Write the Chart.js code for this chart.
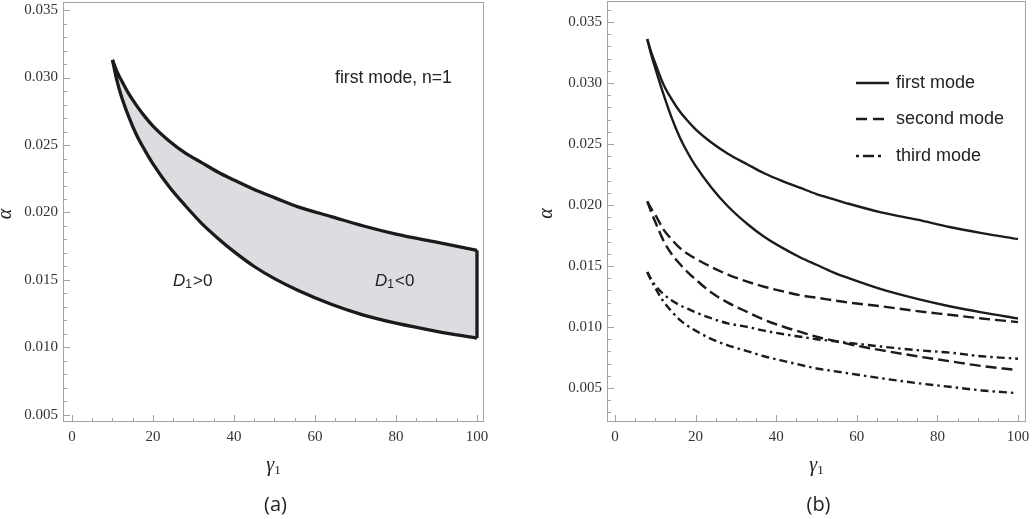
<!DOCTYPE html>
<html>
<head>
<meta charset="utf-8">
<script src="https://cdn.jsdelivr.net/npm/chart.js@4.4.0/dist/chart.umd.min.js"></script>
<style>
  body { margin: 0; background: #fff; }
  .panel { position: absolute; top: 0; width: 516px; height: 519px; }
</style>
</head>
<body>
<div class="panel" style="left:0px"><canvas id="panelA" width="516" height="519"></canvas></div>
<div class="panel" style="left:516px"><canvas id="panelB" width="516" height="519"></canvas></div>
<script>
// panel (a): first mode, n=1 -- boundary of D1<0 region
var gammaA      = [10, 11, 12, 14, 16, 18, 20, 24, 28, 32, 36, 40, 45, 50, 56, 64, 72, 80, 90, 100];
var alphaUpperA = [0.0313, 0.0305, 0.0299, 0.0288, 0.0279, 0.0271, 0.0264, 0.0253, 0.0244, 0.0237, 0.0230, 0.0224, 0.0217, 0.0211, 0.0204, 0.0197, 0.0190, 0.0184, 0.0178, 0.0172];
var alphaLowerA = [0.0313, 0.0299, 0.0288, 0.0271, 0.0257, 0.0246, 0.0236, 0.0219, 0.0205, 0.0192, 0.0181, 0.0171, 0.0160, 0.0151, 0.0142, 0.0132, 0.0124, 0.0118, 0.0112, 0.0107];
var edgeGammaA  = [100, 100];
var edgeAlphaA  = [0.0107, 0.0172];

// panel (b): first, second, third mode
var gammaB       = [8, 9, 10, 12, 14, 16, 18, 20, 24, 28, 33, 37, 42, 46, 50, 54, 58, 66, 75, 83, 91, 100];
var gammaBShort  = [8, 9, 10, 12, 14, 16, 18, 20, 24, 28, 33, 37, 42, 46, 50, 54, 58, 66, 75, 83, 91, 99];
var firstUpper   = [0.0336, 0.0325, 0.0316, 0.0299, 0.0287, 0.0277, 0.0269, 0.0262, 0.0251, 0.0242, 0.0233, 0.0226, 0.0219, 0.0214, 0.0209, 0.0205, 0.0201, 0.0194, 0.0188, 0.0182, 0.0177, 0.0172];
var firstLower   = [0.0336, 0.0323, 0.0312, 0.0291, 0.0272, 0.0256, 0.0243, 0.0232, 0.0214, 0.0199, 0.0184, 0.0174, 0.0164, 0.0157, 0.0151, 0.0145, 0.0140, 0.0131, 0.0123, 0.0117, 0.0112, 0.0107];
var secondUpper  = [0.0203, 0.0197, 0.0192, 0.0180, 0.0172, 0.0165, 0.0160, 0.0156, 0.0149, 0.0143, 0.0137, 0.0133, 0.0129, 0.0126, 0.0124, 0.0122, 0.0120, 0.0117, 0.0113, 0.0110, 0.0107, 0.0104];
var secondLower  = [0.0203, 0.0194, 0.0186, 0.0171, 0.0160, 0.0152, 0.0145, 0.0139, 0.0128, 0.0120, 0.0112, 0.0106, 0.0100, 0.0096, 0.0092, 0.0089, 0.0086, 0.0081, 0.0076, 0.0072, 0.0068, 0.0065];
var thirdUpper   = [0.0145, 0.0139, 0.0134, 0.0127, 0.0122, 0.0118, 0.0115, 0.0112, 0.0107, 0.0103, 0.0100, 0.0097, 0.0094, 0.0092, 0.0090, 0.00885, 0.0087, 0.0084, 0.0081, 0.0079, 0.0076, 0.0074];
var thirdLower   = [0.0145, 0.0138, 0.0132, 0.0121, 0.0113, 0.0106, 0.0101, 0.0097, 0.0090, 0.0085, 0.0080, 0.0076, 0.0072, 0.0069, 0.0066, 0.0064, 0.0062, 0.0058, 0.0054, 0.0051, 0.0048, 0.0046];

var xTicks = [0, 20, 40, 60, 80, 100];
var yTicks = [0.005, 0.010, 0.015, 0.020, 0.025, 0.030, 0.035];
var legendLabels = ['first mode', 'second mode', 'third mode'];

var lineColor = '#1b1b1b';
var dashSecond = [11, 5];
var dashThird = [8, 4, 2.5, 4];

function pts(xs, ys){
  return xs.map((x, i) => ({x: x, y: ys[i]}));
}

// mathematica-like frame with inward ticks
var framePlugin = {
  id: 'frame',
  afterDraw(chart){
    var ctx = chart.ctx;
    var a = chart.chartArea;
    var xs = chart.scales.x, ys = chart.scales.y;
    ctx.save();
    ctx.strokeStyle = '#a3a3a3';
    ctx.lineWidth = 1;
    ctx.strokeRect(Math.round(a.left) + 0.5, Math.round(a.top) + 0.5, Math.round(a.right - a.left) - 1, Math.round(a.bottom - a.top) - 1);
    ctx.beginPath();
    for (var k = 0; k <= 20; k++) {
      var v = k * 5;
      var px = Math.round(xs.getPixelForValue(v)) + 0.5;
      var len = (v % 20 === 0) ? 7 : 4;
      ctx.moveTo(px, a.bottom);
      ctx.lineTo(px, a.bottom - len);
    }
    for (var m = Math.ceil(ys.min * 1000); m <= Math.floor(ys.max * 1000); m++) {
      var py = Math.round(ys.getPixelForValue(m / 1000)) + 0.5;
      var ylen = (m % 5 === 0) ? 7 : 4;
      ctx.moveTo(a.left, py);
      ctx.lineTo(a.left + ylen, py);
    }
    ctx.stroke();
    ctx.restore();
  }
};

function drawAxisTitles(chart, alphaX, tagText){
  var ctx = chart.ctx;
  var a = chart.chartArea;
  var cx = (a.left + a.right) / 2;
  ctx.save();
  ctx.fillStyle = '#222';
  ctx.textBaseline = 'middle';
  // alpha, rotated
  ctx.save();
  ctx.translate(alphaX, (a.top + a.bottom) / 2 + 2);
  ctx.rotate(-Math.PI / 2);
  ctx.textAlign = 'center';
  ctx.font = 'italic 20px "Liberation Serif"';
  ctx.fillText('α', 0, 0);
  ctx.restore();
  // gamma_1
  ctx.textAlign = 'left';
  ctx.font = 'italic 20px "Liberation Serif"';
  var w1 = ctx.measureText('γ').width;
  ctx.font = '13px "Liberation Serif"';
  var w2 = ctx.measureText('1').width;
  var gx = cx - (w1 + w2) / 2;
  ctx.font = 'italic 20px "Liberation Serif"';
  ctx.fillText('γ', gx, 466);
  ctx.font = '13px "Liberation Serif"';
  ctx.fillText('1', gx + w1, 471);
  // panel tag
  ctx.textAlign = 'center';
  ctx.font = '20px "Open Sans"';
  ctx.fillText(tagText, cx + 2, 505);
  ctx.restore();
}

function drawD1(ctx, x, y, sign){
  ctx.textAlign = 'left';
  ctx.textBaseline = 'middle';
  ctx.font = 'italic 17px "Liberation Sans"';
  ctx.fillText('D', x, y);
  var w = ctx.measureText('D').width;
  ctx.font = '12px "Liberation Sans"';
  ctx.fillText('1', x + w, y + 4);
  var w2 = ctx.measureText('1').width;
  ctx.font = '17px "Liberation Sans"';
  ctx.fillText(sign + '0', x + w + w2 + 1, y);
}

var labelsA = {
  id: 'labelsA',
  afterDraw(chart){
    var ctx = chart.ctx;
    drawAxisTitles(chart, 6, '(a)');
    ctx.save();
    ctx.fillStyle = '#222';
    ctx.textAlign = 'left';
    ctx.textBaseline = 'middle';
    ctx.font = '17.6px "Liberation Sans"';
    ctx.fillText('first mode, n=1', 335, 78);
    drawD1(ctx, 173, 281, '>');
    drawD1(ctx, 375, 281, '<');
    ctx.restore();
  }
};

var labelsB = {
  id: 'labelsB',
  afterDraw(chart){
    var ctx = chart.ctx;
    drawAxisTitles(chart, 31, '(b)');
    ctx.save();
    var rows = [83, 119, 156];
    var dashes = [[], [11, 6], [3, 4, 11, 4]];
    var ends = [373, 368, 368];
    ctx.strokeStyle = lineColor;
    ctx.lineWidth = 2.3;
    for (var i = 0; i < rows.length; i++) {
      ctx.beginPath();
      ctx.setLineDash(dashes[i]);
      ctx.moveTo(340, rows[i]);
      ctx.lineTo(ends[i], rows[i]);
      ctx.stroke();
    }
    ctx.setLineDash([]);
    ctx.fillStyle = '#222';
    ctx.textAlign = 'left';
    ctx.textBaseline = 'middle';
    ctx.font = '18px "Liberation Sans"';
    for (var j = 0; j < legendLabels.length; j++) {
      ctx.fillText(legendLabels[j], 380, rows[j]);
    }
    ctx.restore();
  }
};

function axes(xMin, xMax, yMin, yMax, yWidth){
  var tickFont = {family: '"Liberation Serif"', size: 15};
  return {
    x: {
      type: 'linear', min: xMin, max: xMax,
      afterBuildTicks: s => { s.ticks = xTicks.map(v => ({value: v})); },
      afterFit: s => { s.height = 97; s.paddingLeft = 0; s.paddingRight = 0; },
      grid: {display: false, drawTicks: false},
      border: {display: false},
      ticks: {padding: 6, font: tickFont, color: '#333', maxRotation: 0, autoSkip: false, callback: v => String(v)}
    },
    y: {
      type: 'linear', min: yMin, max: yMax,
      afterBuildTicks: s => { s.ticks = yTicks.map(v => ({value: v})); },
      afterFit: s => { s.width = yWidth; s.paddingTop = 0; s.paddingBottom = 0; },
      grid: {display: false, drawTicks: false},
      border: {display: false},
      ticks: {padding: 5, font: tickFont, color: '#333', autoSkip: false, callback: v => v.toFixed(3)}
    }
  };
}

var curve = {borderColor: lineColor, pointRadius: 0, cubicInterpolationMode: 'monotone', fill: false};

function renderPanelA(){
  var ctx = document.getElementById('panelA');
  new Chart(ctx, {
    type: 'line',
    data: {
      datasets: [
        Object.assign({}, curve, {label: 'upper', data: pts(gammaA, alphaUpperA), borderWidth: 3.3, fill: '+1', backgroundColor: '#dcdde0'}),
        Object.assign({}, curve, {label: 'lower', data: pts(gammaA, alphaLowerA), borderWidth: 3.3}),
        {label: 'edge', data: pts(edgeGammaA, edgeAlphaA), borderColor: lineColor, borderWidth: 3.3, pointRadius: 0, tension: 0, fill: false}
      ]
    },
    options: {
      responsive: false,
      animation: false,
      layout: {padding: {top: 2, right: 32, bottom: 0, left: 0}},
      plugins: {legend: {display: false}, tooltip: {enabled: false}, filler: {drawTime: 'beforeDatasetsDraw'}},
      scales: axes(-2.22, 101.73, 0.004481, 0.035593, 63)
    },
    plugins: [framePlugin, labelsA]
  });
}
renderPanelA()

function renderPanelB(){
  var ctx = document.getElementById('panelB');
  new Chart(ctx, {
    type: 'line',
    data: {
      datasets: [
        Object.assign({}, curve, {label: 'first mode', data: pts(gammaB, firstUpper), borderWidth: 2.4}),
        Object.assign({}, curve, {label: 'first mode', data: pts(gammaB, firstLower), borderWidth: 2.4}),
        Object.assign({}, curve, {label: 'second mode', data: pts(gammaB, secondUpper), borderWidth: 2.4, borderDash: dashSecond}),
        Object.assign({}, curve, {label: 'second mode', data: pts(gammaBShort, secondLower), borderWidth: 2.4, borderDash: dashSecond}),
        Object.assign({}, curve, {label: 'third mode', data: pts(gammaB, thirdUpper), borderWidth: 2.4, borderDash: dashThird}),
        Object.assign({}, curve, {label: 'third mode', data: pts(gammaBShort, thirdLower), borderWidth: 2.4, borderDash: dashThird})
      ]
    },
    options: {
      responsive: false,
      animation: false,
      layout: {padding: {top: 1, right: 6, bottom: 0, left: 0}},
      plugins: {legend: {display: false}, tooltip: {enabled: false}},
      scales: axes(-1.99, 101.99, 0.002213, 0.036721, 91)
    },
    plugins: [framePlugin, labelsB]
  });
}
renderPanelB()
</script>
</body>
</html>
